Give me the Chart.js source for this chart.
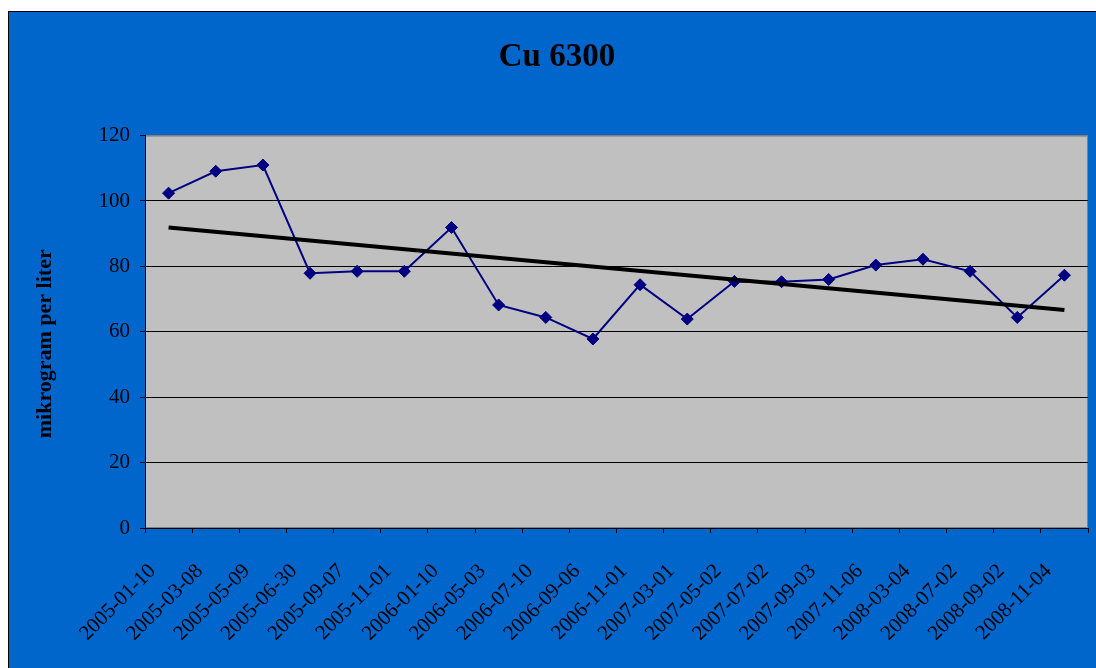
<!DOCTYPE html>
<html><head><meta charset="utf-8">
<script src="https://cdn.jsdelivr.net/npm/chart.js@4/dist/chart.umd.min.js"></script>
<style>
html,body{margin:0;padding:0;background:#fff;overflow:hidden;}
#wrap{position:absolute;left:8px;top:11px;width:1088px;height:657px;box-sizing:border-box;border-left:1px solid #000;border-top:1px solid #000;background:#0066CC;overflow:hidden;}
canvas{display:block;}
</style></head><body>
<div id="wrap"><canvas id="c" width="1087" height="656"></canvas></div>
<script>
const categories = ['2005-01-10','2005-03-08','2005-05-09','2005-06-30','2005-09-07','2005-11-01','2006-01-10','2006-05-03','2006-07-10','2006-09-06','2006-11-01','2007-03-01','2007-05-02','2007-07-02','2007-09-03','2007-11-06','2008-03-04','2008-07-02','2008-09-02','2008-11-04'];
const cuValues = [102.4,109.1,111.0,77.9,78.5,78.5,91.9,68.2,64.4,57.8,74.4,63.9,75.4,75.3,76.0,80.4,82.2,78.5,64.4,77.3];
const trendValues = [91.9,null,null,null,null,null,null,null,null,null,null,null,null,null,null,null,null,null,null,66.7];
const yMin = 0, yMax = 120, yStep = 20;
const titleText = 'Cu 6300';
const yTitleText = 'mikrogram per liter';

const serif = "'Liberation Serif','Times New Roman',serif";

const plotBg = {
  id: 'plotBg',
  beforeDraw(chart) {
    const {ctx, chartArea: {left, top, right, bottom}} = chart;
    ctx.save();
    ctx.fillStyle = '#C0C0C0';
    ctx.fillRect(left, top, right - left, bottom - top);
    ctx.strokeStyle = '#808080';
    ctx.lineWidth = 1;
    ctx.strokeRect(left + 0.5, top + 0.5, right - left - 1, bottom - top - 1);
    ctx.restore();
  }
};

const yTitle = {
  id: 'yTitle',
  afterDraw(chart) {
    const {ctx, chartArea} = chart;
    ctx.save();
    ctx.translate(36, (chartArea.top + chartArea.bottom) / 2 + 12);
    ctx.rotate(-Math.PI / 2);
    ctx.fillStyle = '#000';
    ctx.font = "bold 22px " + serif;
    ctx.textAlign = 'center';
    ctx.textBaseline = 'middle';
    ctx.fillText(yTitleText, 0, 0);
    ctx.restore();
  }
};

new Chart(document.getElementById('c'), {
  type: 'line',
  data: {
    labels: categories,
    datasets: [
      {
        label: 'trend',
        data: trendValues,
        borderColor: '#000000',
        borderWidth: 4,
        pointRadius: 0,
        spanGaps: true,
        fill: false,
        order: 0
      },
      {
        label: 'Cu',
        data: cuValues,
        borderColor: '#000080',
        backgroundColor: '#000080',
        borderWidth: 2,
        pointStyle: 'rectRot',
        pointRadius: 6,
        pointBorderWidth: 1,
        tension: 0,
        fill: false,
        order: 1
      }
    ]
  },
  options: {
    responsive: false,
    animation: false,
    layout: {padding: {left: 17, right: 8, top: 0, bottom: 0}},
    plugins: {
      legend: {display: false},
      tooltip: {enabled: false},
      title: {
        display: true,
        text: titleText,
        color: '#000',
        font: {family: serif, size: 33, weight: 'bold'},
        padding: {top: 26, bottom: 58}
      }
    },
    scales: {
      x: {
        type: 'category',
        offset: true,
        grid: {offset: true, drawOnChartArea: false, tickLength: 5, color: '#000', lineWidth: 1},
        border: {color: '#000', width: 1},
        ticks: {autoSkip: false, minRotation: 45, maxRotation: 45, labelOffset: -16, padding: 26,
                color: '#000', font: {family: serif, size: 21}},
        afterFit(s) { s.height = 140; s.paddingRight = 0; s.paddingLeft = 0; }
      },
      y: {
        min: yMin, max: yMax,
        ticks: {stepSize: yStep, padding: 10, color: '#000', font: {family: serif, size: 21}},
        grid: {
          color: (c) => (c.tick && c.tick.value === yMax) ? '#808080' : '#000',
          tickColor: '#000', tickLength: 5, lineWidth: 1
        },
        border: {color: '#000', width: 1},
        afterFit(s) { s.width = 119; s.paddingTop = 0; s.paddingBottom = 0; }
      }
    }
  },
  plugins: [plotBg, yTitle]
});
</script>
</body></html>
